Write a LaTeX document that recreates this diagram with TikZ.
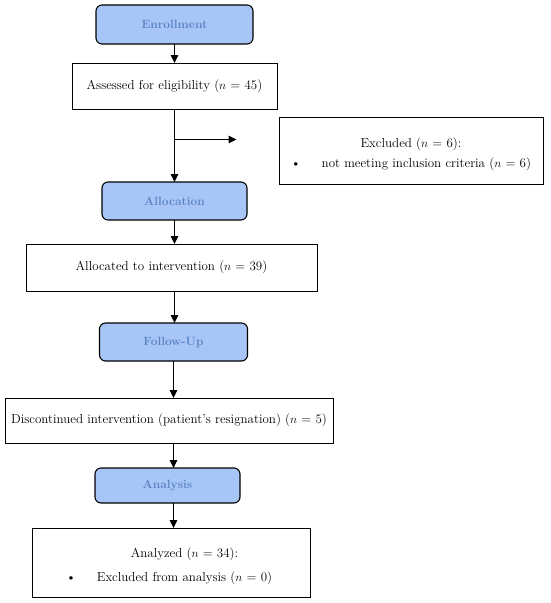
\documentclass[tikz,border=0pt]{standalone}
\usepackage{tikz}
\usetikzlibrary{positioning, arrows.meta}
\definecolor{headfill}{HTML}{A8C5F7}
\definecolor{headtext}{HTML}{5B84C4}

\begin{document}
\begin{tikzpicture}[x=1pt, y=1pt,
    head/.style={draw, line width=1.1pt, rounded corners=6pt, fill=headfill, text=headtext, outer sep=0pt,
      font=\fontsize{12}{14}\selectfont\bfseries, minimum width=145pt, minimum height=38pt, inner sep=0pt},
    box/.style={draw, line width=1pt, fill=white, align=center, outer sep=0pt,
      font=\fontsize{13}{20}\selectfont, minimum height=46pt, inner sep=0pt},
    arr/.style={line width=1.2pt, -{Triangle[length=8pt, width=7.5pt]}},
  ]
\useasboundingbox (0,0) rectangle (550,-603);
%flow
\node [head, minimum width=157pt, minimum height=39pt] (enroll) at (174.5,-24.5) {Enrollment};
\node [box, below=19pt of enroll, minimum width=205pt] (assess) {Assessed for eligibility ($n$ = 45)};
\node [box, below right=8pt and 2pt of assess.south east, minimum width=264pt, minimum height=67pt]
  (excl) {\rule{0pt}{18pt}Excluded ($n$ = 6):\\ \textbullet\hspace{1.6em}not meeting inclusion criteria ($n$ = 6)};
\node [head, below=73pt of assess] (alloc) {Allocation};
\node [box, below=24pt of alloc, xshift=-3pt, minimum width=291pt, minimum height=47pt] (allocd) {Allocated to intervention ($n$ = 39)};
\node [head, below=32pt of allocd, xshift=2pt, minimum width=148pt] (follow) {Follow-Up};
\node [box, below=37pt of follow, xshift=-4.5pt, minimum width=328pt, minimum height=45pt] (discont) {Discontinued intervention (patient's resignation) ($n$ = 5)};
\node [head, below=25pt of discont, xshift=-1.5pt, minimum height=35pt] (analys) {Analysis};
\node [box, below=25pt of analys, xshift=3.5pt, minimum width=278pt, minimum height=69pt]
  (analyzed) {\rule{0pt}{18pt}\hspace*{27pt}Analyzed ($n$ = 34):\\[4pt] \hspace*{27pt}\llap{\textbullet\hspace{1.6em}}Excluded from analysis ($n$ = 0)};
\coordinate [below=30.5pt of assess.south] (br);
\coordinate [right=62pt of br] (brend);
%arrows
\draw [arr] (enroll) -- (enroll |- assess.north);
\draw [arr] (assess) -- (assess |- alloc.north);
\draw [arr] (br) -- (brend);
\draw [arr] (alloc) -- (alloc |- allocd.north);
\draw [arr] (alloc |- allocd.south) -- (alloc |- follow.north);
\draw [arr] (follow) -- (follow |- discont.north);
\draw [arr] (follow |- discont.south) -- (follow |- analys.north);
\draw [arr] (follow |- analys.south) -- (follow |- analyzed.north);
\end{tikzpicture}
\end{document}
